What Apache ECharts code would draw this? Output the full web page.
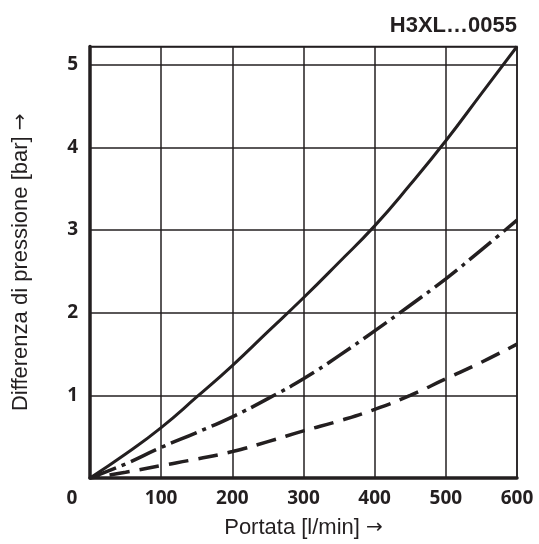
<!DOCTYPE html>
<html>
<head>
<meta charset="utf-8">
<script src="https://cdn.jsdelivr.net/npm/echarts@6/dist/echarts.min.js"></script>
<style>html,body{margin:0;padding:0;background:#fff;}#c{width:539px;height:544px;}</style>
</head>
<body>
<div id="c"></div>
<script>
const flow = [0, 50, 100, 150, 200, 250, 300, 350, 400, 450, 500, 550, 600];
const solidCurve = [0, 0.29, 0.61, 0.98, 1.36, 1.77, 2.18, 2.61, 3.05, 3.55, 4.08, 4.65, 5.22];
const dashDotCurve = [0, 0.17, 0.37, 0.55, 0.74, 0.96, 1.20, 1.48, 1.78, 2.09, 2.41, 2.76, 3.12];
const dashedCurve = [0, 0.07, 0.15, 0.23, 0.32, 0.44, 0.57, 0.69, 0.83, 1.00, 1.20, 1.40, 1.62];
const titleText = 'H3XL…0055';
const xNameText = 'Portata [l/min]';
const yNameText = 'Differenza di pressione [bar]';
const arrow = '→';

const pairs = ys => flow.map((x, i) => [x, ys[i]]);
const ink = '#231f20';
const nameStyle = {
  fontFamily: 'Liberation Sans', fontSize: 22, color: ink,
  rich: {a: {fontFamily: 'DejaVu Sans', fontSize: 20, color: ink}}
};

const chart = echarts.init(document.getElementById('c'), null, {renderer: 'canvas'});
chart.setOption({
  animation: false,
  title: {
    text: titleText, right: 17, top: 10,
    textStyle: {fontFamily: 'Liberation Sans', fontWeight: 'bold', fontSize: 22, color: ink}
  },
  grid: {left: 90, right: 22, top: 46.5, bottom: 66, show: true, borderColor: ink, borderWidth: 1.5},
  xAxis: {
    type: 'value', min: 0, max: 600, interval: 100,
    name: xNameText + ' {a|' + arrow + '}', nameLocation: 'middle', nameGap: 39,
    nameTextStyle: nameStyle,
    axisLine: {show: true, onZero: false, lineStyle: {color: ink, width: 3.5}},
    axisTick: {show: false},
    splitLine: {show: true, lineStyle: {color: ink, width: 1.5}},
    axisLabel: {
      margin: 11, color: ink, fontFamily: 'Open Sans', fontWeight: 'bold', fontSize: 19,
      formatter: v => v === 0 ? '{z|0}' : String(v),
      rich: {z: {padding: [0, 36, 0, 0], fontFamily: 'Open Sans', fontWeight: 'bold', fontSize: 19, color: ink}}
    }
  },
  yAxis: {
    type: 'value', min: 0, max: 5.22, interval: 1,
    name: yNameText + ' {a|' + arrow + '}', nameLocation: 'middle', nameGap: 58,
    nameTextStyle: nameStyle,
    axisLine: {show: true, lineStyle: {color: ink, width: 3.5}},
    axisTick: {show: false},
    splitLine: {show: true, lineStyle: {color: ink, width: 1.5}},
    axisLabel: {
      margin: 12, color: ink, fontFamily: 'Open Sans', fontWeight: 'bold', fontSize: 19,
      showMaxLabel: false,
      formatter: v => v === 0 ? '' : String(v)
    }
  },
  series: [
    {type: 'line', data: pairs(solidCurve), smooth: 0.5, showSymbol: false,
     lineStyle: {color: ink, width: 3, type: 'solid'}},
    {type: 'line', data: pairs(dashDotCurve), smooth: 0.5, showSymbol: false,
     lineStyle: {color: ink, width: 3.5, type: [28, 6, 4, 6]}},
    {type: 'line', data: pairs(dashedCurve), smooth: 0.5, showSymbol: false,
     lineStyle: {color: ink, width: 3.5, type: [20, 10], dashOffset: 10}}
  ]
});
</script>
</body>
</html>
